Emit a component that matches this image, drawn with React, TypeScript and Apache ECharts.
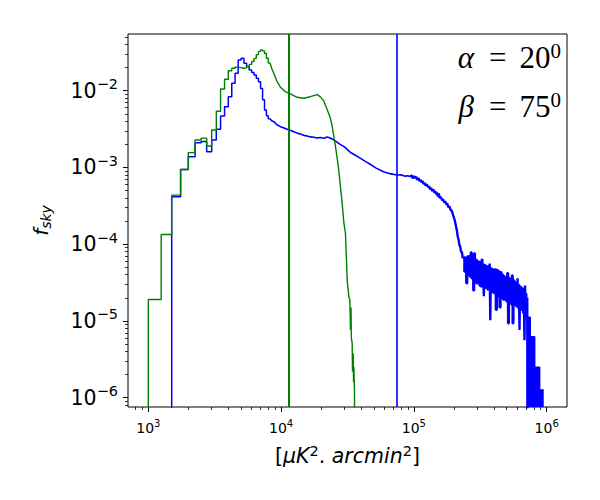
import React, { useEffect, useRef } from "react";
import * as echarts from "echarts";

// ---------- data ----------
// Histogram bins at low x (left edges, width 250)
const lowBinEdges = [
  1000, 1250, 1500, 1750, 2000, 2250, 2500, 2750, 3000, 3250, 3500, 3750, 4000, 4250, 4500,
  4750, 5000, 5250, 5500, 5750, 6000, 6250, 6500, 6750, 7000, 7250, 7500, 7750, 8000,
];
const lowBinRightEdge = 8250;
const greenLowValues = [
  1.9e-5, 1.34e-4, 4.36e-4, 9.4e-4, 1.56e-3, 2.28e-3, 2.41e-3, 1.9e-3, 3.07e-3, 5.4e-3,
  1.05e-2, 1.41e-2, 1.82e-2, 1.96e-2, 2.02e-2, 2.0e-2, 1.96e-2, 2.0e-2, 2.06e-2, 2.2e-2,
  2.4e-2, 2.64e-2, 2.95e-2, 3.25e-2, 3.4e-2, 3.3e-2, 3.05e-2, 2.65e-2, 2.3e-2,
];
const blueLowValues = [
  null, null, 4.15e-4, 9.4e-4, 1.38e-3, 2.1e-3, 2.17e-3, 1.6e-3, 2.28e-3, 3.14e-3,
  4.67e-3, 6.18e-3, 8.35e-3, 1.25e-2, 1.69e-2, 2.51e-2, 2.64e-2, 2.28e-2, 2.06e-2, 1.86e-2,
  1.72e-2, 1.6e-2, 1.45e-2, 1.31e-2, 1.07e-2, 7.6e-3, 5.6e-3, 4.7e-3, 4.3e-3,
];

// Green (alpha) continuation, fine bins
const greenX = [
  8250, 8500, 8810, 9330, 9880, 10780, 11750, 13200, 14830, 16630, 18670, 19780, 20980,
  22220, 23500, 24110, 25000, 25530, 26300, 27030, 27800, 28680, 29690, 30520, 31000,
  31440, 32370, 32940, 33290, 33600, 33800, 34280, 34500, 34890, 35100, 35310, 35680, 36120,
  36130,
];
const greenY = [
  2.3e-2, 1.95e-2, 1.69e-2, 1.31e-2, 1.11e-2, 9.7e-3, 9.06e-3, 8.2e-3, 7.96e-3, 8.35e-3,
  8.9e-3, 8.3e-3, 7.3e-3, 5.7e-3, 4.4e-3, 3.6e-3, 2.5e-3, 2.0e-3, 1.4e-3, 1.0e-3, 6.2e-4,
  3.76e-4, 1.9e-4, 1.38e-4, 6.8e-5, 3.4e-5, 2.06e-5, 1.87e-5, 7.6e-6, 1.5e-5, 6e-6, 5.1e-6,
  2.2e-6, 3.8e-6, 1.6e-6, 2.5e-6, 1.26e-6, 1.26e-6, 1e-9,
];

// Blue continuation, smooth part
const blueX = [
  8250, 8500, 8810, 9300, 9880, 10400, 11090, 11700, 12460, 13200, 13980, 14800, 15700,
  16600, 17640, 18600, 19770, 21000, 22220, 23400, 24780, 26200, 27840, 30000, 33110,
  36000, 39390, 43000, 46850, 52000, 59000, 66000, 74450, 80000, 86000, 90000, 93780,
];
const blueY = [
  4.3e-3, 4.05e-3, 3.95e-3, 3.6e-3, 3.4e-3, 3.3e-3, 3.14e-3, 3.05e-3, 2.92e-3, 2.8e-3,
  2.72e-3, 2.62e-3, 2.57e-3, 2.5e-3, 2.47e-3, 2.42e-3, 2.46e-3, 2.4e-3, 2.5e-3, 2.42e-3,
  2.3e-3, 2.15e-3, 2.0e-3, 1.85e-3, 1.58e-3, 1.45e-3, 1.32e-3, 1.2e-3, 1.1e-3, 9.8e-4,
  8.8e-4, 8.3e-4, 7.96e-4, 8.0e-4, 7.7e-4, 7.8e-4, 7.57e-4,
];

// Blue, noisier part before the tail
const blueNoisyX = [
  93780, 96000, 98000, 100000, 102000, 104000, 106000, 108000, 110000, 112000, 114000,
  116000, 118000, 120000, 122500, 125300, 128000, 130000, 132500, 135000, 137500, 140000,
  142500, 145000, 147000, 149000, 151500, 154000, 156000, 158000, 160000, 162000, 164000,
  166000, 169000, 172100, 175000, 178000, 181500, 185000, 189000, 193400, 198000, 203000,
  207000, 210900, 214000, 217000, 220000, 223300, 226500, 230000, 233000, 236500,
];
const blueNoisyY = [
  7.57e-4, 7.9e-4, 7.2e-4, 7.7e-4, 7.3e-4, 7.5e-4, 6.9e-4, 7.3e-4, 6.7e-4, 6.9e-4, 6.4e-4,
  6.7e-4, 6.1e-4, 6.3e-4, 5.8e-4, 6.0e-4, 5.5e-4, 5.7e-4, 5.2e-4, 5.4e-4, 4.9e-4, 5.2e-4,
  4.7e-4, 4.9e-4, 4.5e-4, 4.7e-4, 4.2e-4, 4.6e-4, 4.0e-4, 4.2e-4, 3.9e-4, 4.0e-4, 3.7e-4,
  3.85e-4, 3.5e-4, 3.6e-4, 3.3e-4, 3.4e-4, 3.05e-4, 3.1e-4, 2.8e-4, 2.7e-4, 2.35e-4, 2.05e-4,
  1.75e-4, 1.5e-4, 1.25e-4, 1.15e-4, 9.8e-5, 9.3e-5, 8.0e-5, 7.9e-5, 6.6e-5, 6.8e-5,
];

// Blue noisy tail (dense band)
const blueTailX = [
  236500, 240000, 244000, 248000, 252000, 256000, 260000, 264000, 268000, 272000, 276000,
  280000, 284000, 288000, 292000, 296000, 300000, 304000, 308000, 312000, 316000, 320000,
  324000, 328000, 332000, 336000, 340000, 344000, 348000, 352000, 356000, 360000, 364000,
  368000, 372000, 376000, 380000, 384000, 388000, 392000, 396000, 400000,
  407000, 414000, 421000, 428000, 435000, 442000, 449000, 456000, 463000, 470000, 477000,
  484000, 491000, 498000, 505000, 512000, 519000, 526000, 533000, 540000, 547000, 554000,
  561000, 568000, 575000, 582000, 589000, 596000, 603000, 610000, 617000, 624000, 631000,
  638000, 645000, 652000, 659000, 666000, 673000, 680000, 687000, 694000, 701000, 708000,
  714000, 718000,
];
const blueTailY = [
  6.8e-5, 4.4e-5, 6.6e-5, 3.1e-5, 6.9e-5, 4.0e-5, 7.0e-5, 3.8e-5, 7.8e-5, 3.6e-5, 7.1e-5,
  2.5e-5, 7.6e-5, 3.4e-5, 6.3e-5, 3.1e-5, 6.0e-5, 3.2e-5, 5.9e-5, 2.9e-5, 5.8e-5, 2.8e-5,
  6.3e-5, 2.8e-5, 5.6e-5, 2.1e-5, 5.5e-5, 2.6e-5, 5.4e-5, 2.7e-5, 5.2e-5, 2.5e-5, 5.3e-5,
  2.5e-5, 5.6e-5, 1.02e-5, 5.0e-5, 2.4e-5, 4.9e-5, 2.3e-5, 4.8e-5, 2.3e-5,
  4.7e-5, 1.4e-5, 4.6e-5, 2.1e-5, 4.4e-5, 1.5e-5, 4.3e-5, 2.0e-5, 4.0e-5, 1.9e-5, 3.8e-5,
  1.9e-5, 3.7e-5, 1.8e-5, 4.2e-5, 9.3e-6, 3.6e-5, 1.75e-5, 3.5e-5, 1.65e-5, 3.9e-5, 9.3e-6,
  3.4e-5, 1.6e-5, 3.3e-5, 1.55e-5, 3.2e-5, 1.5e-5, 3.6e-5, 1.45e-5, 3.0e-5, 7.6e-6, 2.9e-5,
  1.4e-5, 2.8e-5, 1.35e-5, 2.7e-5, 1.25e-5, 2.6e-5, 5.6e-6, 2.9e-5, 1.15e-5, 2.3e-5, 1.1e-5,
  2.0e-5, 1e-9,
];
// Solid blue block at the very end (upper envelope)
const blueEdgeX = [718000, 752000, 812000, 885000, 950000];
const blueEdgeY = [1.12e-5, 6.2e-6, 2.5e-6, 1.26e-6, 1.26e-6];

const greenStartX = 1000;
const blueStartX = 1500;
const belowAxis = 1e-9;

const xTicks = [1e3, 1e4, 1e5, 1e6];
const yTicks = [1e-6, 1e-5, 1e-4, 1e-3, 1e-2];
const greenVLine = 11400;
const blueVLine = 74100;

const GREEN = "#008000";
const BLUE = "#0000ff";

function expLabel(v: number): string {
  const e = Math.round(Math.log10(v));
  const s = e < 0 ? "\u2212" + String(-e) : String(e);
  return `{b|10}{s|${s}}`;
}

const pairs = (xs: number[], ys: number[]) => xs.map((x, i) => [x, ys[i]]);

export default function App() {
  const ref = useRef<HTMLDivElement>(null);
  useEffect(() => {
    const chart = echarts.init(ref.current!, null, { renderer: "svg" });

    const greenLowData: number[][] = [[greenStartX, belowAxis]];
    lowBinEdges.forEach((e, i) => greenLowData.push([e, greenLowValues[i] as number]));
    greenLowData.push([lowBinRightEdge, greenLowValues[greenLowValues.length - 1]]);

    const blueLowData: number[][] = [[blueStartX, belowAxis]];
    lowBinEdges.forEach((e, i) => {
      const v = blueLowValues[i];
      if (v !== null) blueLowData.push([e, v]);
    });
    blueLowData.push([lowBinRightEdge, blueLowValues[blueLowValues.length - 1] as number]);

    const serif = "Liberation Serif";
    const annRich = {
      a: { fontFamily: serif, fontStyle: "italic", fontSize: 31, lineHeight: 34, color: "#000", verticalAlign: "middle" },
      e: { fontFamily: serif, fontSize: 31, lineHeight: 34, color: "#000", padding: [0, 13, 0, 15], verticalAlign: "middle" },
      n: { fontFamily: serif, fontSize: 31, lineHeight: 34, color: "#000", verticalAlign: "middle" },
      s: { fontFamily: serif, fontSize: 21, lineHeight: 15, color: "#000", verticalAlign: "top" },
    };

    const lineBase = { type: "line", symbol: "none", showSymbol: false, clip: true, silent: true };

    chart.setOption({
      animation: false,
      textStyle: { fontFamily: "DejaVu Sans", color: "#000" },
      grid: {
        left: 128,
        right: 33,
        top: 34,
        bottom: 93,
        show: true,
        borderColor: "#000",
        borderWidth: 1,
        backgroundColor: "transparent",
        containLabel: false,
        outerBoundsMode: "none",
      },
      xAxis: {
        type: "log",
        logBase: 10,
        min: 703,
        max: 1.422e6,
        axisLine: { show: false },
        splitLine: { show: false },
        minorSplitLine: { show: false },
        axisTick: { show: true, length: 5, lineStyle: { color: "#000", width: 1 }, customValues: xTicks },
        minorTick: { show: true, splitNumber: 9, length: 3, lineStyle: { color: "#000", width: 0.8 } },
        axisLabel: {
          customValues: xTicks,
          margin: 11,
          formatter: (v: number) => expLabel(v),
          rich: {
            b: { fontFamily: "DejaVu Sans", fontSize: 14, lineHeight: 20, color: "#000", verticalAlign: "middle" },
            s: { fontFamily: "DejaVu Sans", fontSize: 10, lineHeight: 10, color: "#000", verticalAlign: "top" },
          },
        },
        name: "{n|[}{i|μK}{p|2}{n|. }{i|arcmin}{p|2}{n|]}",
        nameLocation: "middle",
        nameGap: 36,
        nameTextStyle: {
          rich: {
            n: { fontFamily: "DejaVu Sans", fontSize: 20.5, lineHeight: 26, color: "#000", verticalAlign: "middle" },
            i: { fontFamily: "DejaVu Sans", fontStyle: "italic", fontSize: 20.5, lineHeight: 26, color: "#000", verticalAlign: "middle" },
            p: { fontFamily: "DejaVu Sans", fontSize: 14.5, lineHeight: 14, color: "#000", verticalAlign: "top" },
          },
        },
      },
      yAxis: {
        type: "log",
        logBase: 10,
        min: 7.56e-7,
        max: 0.0548,
        axisLine: { show: false },
        splitLine: { show: false },
        minorSplitLine: { show: false },
        axisTick: { show: true, length: 5, lineStyle: { color: "#000", width: 1 }, customValues: yTicks },
        minorTick: { show: true, splitNumber: 9, length: 3, lineStyle: { color: "#000", width: 0.8 } },
        axisLabel: {
          customValues: yTicks,
          margin: 10,
          formatter: (v: number) => expLabel(v),
          rich: {
            b: { fontFamily: "DejaVu Sans", fontSize: 20.5, lineHeight: 28, color: "#000", verticalAlign: "middle" },
            s: { fontFamily: "DejaVu Sans", fontSize: 14.5, lineHeight: 14, color: "#000", verticalAlign: "top" },
          },
        },
        name: "{f|f}{k|sky}",
        nameLocation: "middle",
        nameRotate: 90,
        nameGap: 75,
        nameTextStyle: {
          rich: {
            f: { fontFamily: "DejaVu Sans", fontStyle: "italic", fontSize: 20, lineHeight: 22, color: "#000", verticalAlign: "top" },
            k: { fontFamily: "DejaVu Sans", fontStyle: "italic", fontSize: 14, lineHeight: 14, color: "#000", verticalAlign: "bottom" },
          },
        },
      },
      graphic: [
        {
          type: "text",
          x: 561,
          y: 40,
          style: { text: "{a|α}{e|=}{n|20}{s|0}", rich: annRich, align: "right", verticalAlign: "top" },
        },
        {
          type: "text",
          x: 561,
          y: 89,
          style: { text: "{a|β}{e|=}{n|75}{s|0}", rich: annRich, align: "right", verticalAlign: "top" },
        },
      ],
      series: [
        {
          ...lineBase,
          name: "blueLow",
          data: blueLowData,
          step: "end",
          lineStyle: { color: BLUE, width: 1.5 },
          z: 2,
          markLine: {
            silent: true,
            symbol: ["none", "none"],
            label: { show: false },
            lineStyle: { color: BLUE, width: 1.6, type: "solid" },
            data: [{ xAxis: blueVLine }],
          },
        },
        { ...lineBase, name: "blueSmooth", data: pairs(blueX, blueY), lineStyle: { color: BLUE, width: 1.6 }, z: 2 },
        { ...lineBase, name: "blueNoisy", data: pairs(blueNoisyX, blueNoisyY), lineStyle: { color: BLUE, width: 2.4 }, z: 2 },
        { ...lineBase, name: "blueTail", data: pairs(blueTailX, blueTailY), step: "end", lineStyle: { color: BLUE, width: 2.4 }, z: 2 },
        {
          ...lineBase,
          name: "blueEdge",
          data: pairs(blueEdgeX, blueEdgeY),
          step: "end",
          lineStyle: { color: BLUE, width: 1.5 },
          areaStyle: { color: BLUE, opacity: 1, origin: "start" },
          z: 2,
        },
        {
          ...lineBase,
          name: "greenLow",
          data: greenLowData,
          step: "end",
          lineStyle: { color: GREEN, width: 1.4 },
          z: 3,
          markLine: {
            silent: true,
            symbol: ["none", "none"],
            label: { show: false },
            lineStyle: { color: GREEN, width: 2, type: "solid" },
            data: [{ xAxis: greenVLine }],
          },
        },
        { ...lineBase, name: "greenSmooth", data: pairs(greenX, greenY), lineStyle: { color: GREEN, width: 1.4 }, z: 3 },
      ],
    });
    return () => chart.dispose();
  }, []);
  return <div ref={ref} style={{ position: "absolute", left: 0, top: 0, width: 600, height: 500 }} />;
}
